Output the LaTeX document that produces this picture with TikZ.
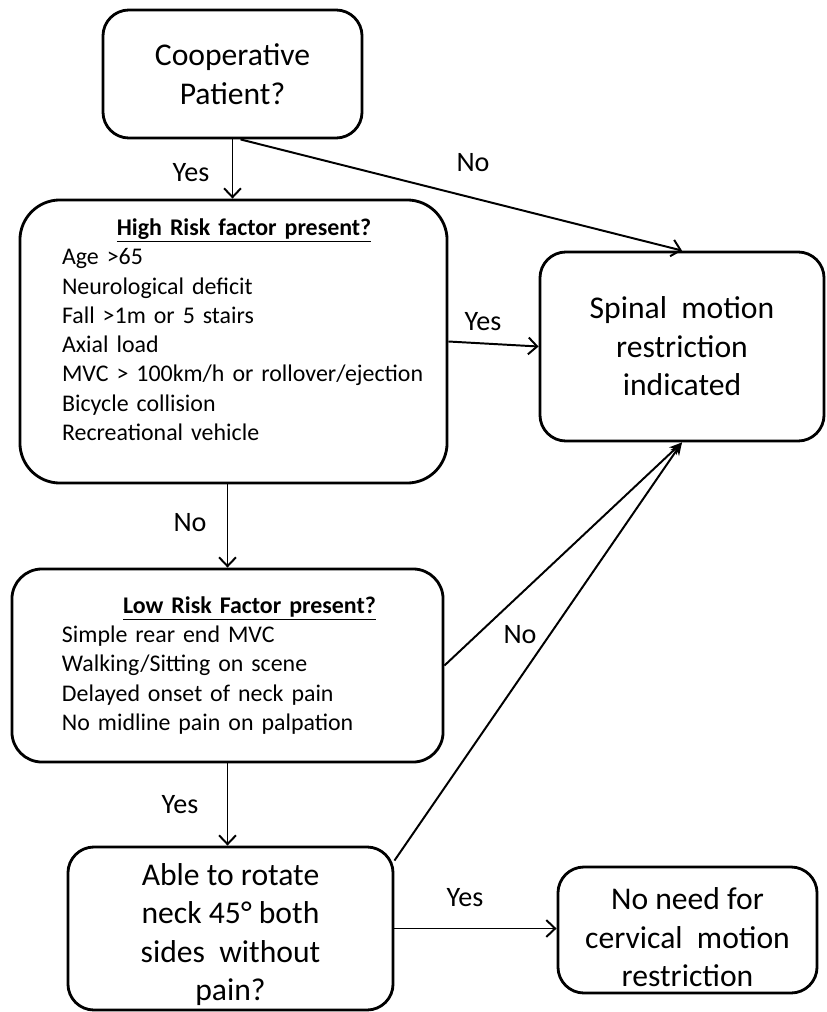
\documentclass[tikz,border=0pt]{standalone}
\usepackage{fontspec}
\setmainfont{Carlito}
\usetikzlibrary{arrows.meta}

\tikzset{
  flowbox/.style={draw, line width=2pt, rounded corners=0.65cm, align=center,
    inner sep=0pt, font=\fontsize{22.5}{27.4}\selectfont},
  riskbox/.style={draw, line width=2pt, inner sep=0pt,
    font=\fontsize{17}{20.8}\selectfont},
  answer/.style={font=\fontsize{20}{24}\selectfont},
  flow/.style={line width=1.4pt, -{Straight Barb[length=2.2mm,width=4.2mm]}},
  merge/.style={line width=1.4pt, -{Stealth[length=3.2mm,width=2.6mm]}},
}

\begin{document}
\begin{tikzpicture}[x=0.025cm, y=-0.025cm]
  \useasboundingbox (0,0) rectangle (827,1012);

  % boxes
  \node[flowbox, minimum width=6.475cm, minimum height=3.2cm] (coop) at (232.5,74)
    {Cooperative\\Patient?};
  \node[riskbox, rounded corners=1cm, minimum width=10.675cm, minimum height=7.075cm,
    text width=9.35cm] (highrisk) at (233.5,341.5)
    {{\centering\hspace*{0.53cm}\textbf{\underline{High Risk factor present?}}\par}
     \raggedright\leftskip=0.39cm\rightskip=-0.8cm plus 1fil
     Age >65\\
     Neurological deficit\\
     Fall >1m or 5 stairs\\
     Axial load\\
     MVC > 100km/h or rollover/ejection\\
     Bicycle collision\\
     Recreational vehicle\rule[-0.6cm]{0pt}{0pt}\par};
  \node[flowbox, minimum width=7.1cm, minimum height=4.725cm] (spinal) at (682,346.5)
    {Spinal\ \ motion\\restriction\\indicated};
  \node[riskbox, rounded corners=0.75cm, minimum width=10.775cm, minimum height=4.825cm,
    text width=9.375cm] (lowrisk) at (227.5,665.5)
    {{\centering\hspace*{1.1cm}\textbf{\underline{Low Risk Factor present?}}\par}
     \raggedright\leftskip=0.55cm\rightskip=-0.5cm plus 1fil
     Simple rear end MVC\\
     Walking/Sitting on scene\\
     Delayed onset of neck pain\\
     No midline pain on palpation\par};
  \node[flowbox, minimum width=8.125cm, minimum height=4.075cm] (rotate) at (230.5,928.5)
    {\rule{0pt}{24pt}Able to rotate\\neck 45° both\\sides\ \ without\\pain?};
  \node[flowbox, minimum width=6.475cm, minimum height=3.15cm] (noneed) at (687.5,930)
    {\rule{0pt}{26pt}No need for\\cervical\ \ motion\\restriction};

  % connectors
  \draw[flow] (coop.south) -- (coop.south |- highrisk.north);
  \draw[flow] ([xshift=0.2cm]coop.south) -- (spinal.north);
  \draw[flow] (highrisk.east) -- (spinal.west);
  \draw[flow] (lowrisk.north |- highrisk.south) -- (lowrisk.north);
  \draw[merge] (lowrisk.east) -- (spinal.south);
  \draw[merge] ([yshift=-0.375cm]rotate.north east) -- (spinal.south);
  \draw[flow] (lowrisk.south) -- (lowrisk.south |- rotate.north);
  \draw[flow] (rotate.east) -- (rotate.east -| noneed.west);

  % answers
  \node[answer] (yes1) at (191,173) {Yes};
  \node[answer] (no1) at (473,163) {No};
  \node[answer] (yes2) at (483,322) {Yes};
  \node[answer] (no2) at (190,523) {No};
  \node[answer] (no3) at (520,635) {No};
  \node[answer] (yes3) at (180,805) {Yes};
  \node[answer] (yes4) at (465,898) {Yes};
\end{tikzpicture}
\end{document}
